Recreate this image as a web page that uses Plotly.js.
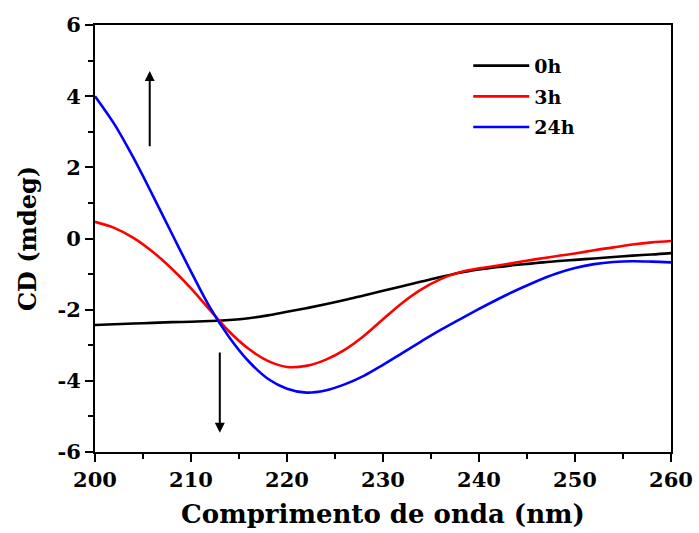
<!DOCTYPE html>
<html>
<head>
<meta charset="utf-8">
<script src="https://cdn.plot.ly/plotly-3.0.1.min.js"></script>
<style>html,body{margin:0;padding:0;background:#fff;}#chart{width:699px;height:533px;}</style>
</head>
<body>
<div id="chart"></div>
<script>
const wavelength = [200,202,204,206,208,210,212,214,216,218,220,222,224,226,228,230,232,234,236,238,240,242,244,246,248,250,252,254,256,258,260];
const cd_0h  = [-2.43,-2.41,-2.39,-2.37,-2.35,-2.34,-2.32,-2.29,-2.24,-2.16,-2.06,-1.96,-1.85,-1.73,-1.60,-1.47,-1.34,-1.21,-1.08,-0.96,-0.87,-0.80,-0.74,-0.69,-0.64,-0.60,-0.56,-0.52,-0.48,-0.45,-0.41];
const cd_3h  = [0.47,0.30,0.02,-0.37,-0.85,-1.40,-2.02,-2.62,-3.10,-3.44,-3.61,-3.58,-3.41,-3.13,-2.74,-2.27,-1.81,-1.43,-1.14,-0.95,-0.84,-0.76,-0.67,-0.58,-0.50,-0.42,-0.33,-0.25,-0.17,-0.11,-0.07];
const cd_24h = [4.00,3.22,2.27,1.22,0.14,-0.93,-1.95,-2.78,-3.45,-3.94,-4.22,-4.33,-4.27,-4.10,-3.86,-3.55,-3.22,-2.89,-2.57,-2.27,-1.98,-1.70,-1.44,-1.20,-0.99,-0.83,-0.72,-0.66,-0.64,-0.65,-0.67];
const seriesNames = ['0h','3h','24h'];
const xTicks = [200,210,220,230,240,250,260];
const yTicks = [-6,-4,-2,0,2,4,6];

const FONT = 'DejaVu Serif, serif';
const colors = ['#000000','#ff0000','#0000ff'];
const ys = [cd_0h, cd_3h, cd_24h];
const traces = ys.map((y,i)=>({
  x: wavelength, y: y, name: seriesNames[i], legendgroup:'g'+i, type:'scatter', mode:'lines',
  line:{color:colors[i], width:2.6, shape:'spline', smoothing:1}
}));

const axisCommon = {
  showgrid:false, zeroline:false, showline:true, linecolor:'#000', linewidth:2,
  mirror:true, ticks:'outside', ticklen:8, tickwidth:2, tickcolor:'#000',
  tickfont:{family:FONT, size:21, color:'#000', weight:'bold'}
};

const layout = {
  width:699, height:533,
  margin:{l:95, r:28, t:25, b:81},
  paper_bgcolor:'#fff', plot_bgcolor:'#fff',
  font:{family:FONT, color:'#000'},
  showlegend:true,
  legend:{x:0.648, y:0.949, xanchor:'left', yanchor:'top', bgcolor:'rgba(0,0,0,0)',
          font:{family:FONT, size:19, color:'#000', weight:'bold'}, itemwidth:56, tracegroupgap:3},
  xaxis:Object.assign({}, axisCommon, {
    range:[200,260], tickvals:xTicks, ticktext:xTicks.map(String),
    minor:{dtick:5, ticklen:5, tickwidth:2, tickcolor:'#000', ticks:'outside'},
    title:{text:'Comprimento de onda (nm)', font:{family:FONT, size:26, color:'#000', weight:'bold'}, standoff:14}
  }),
  yaxis:Object.assign({}, axisCommon, {
    range:[-6,6], tickvals:yTicks, ticktext:yTicks.map(String),
    minor:{dtick:1, ticklen:5, tickwidth:2, tickcolor:'#000', ticks:'outside'},
    title:{text:'CD (mdeg)', font:{family:FONT, size:24, color:'#000', weight:'bold'}, standoff:14}
  }),
  annotations:[
    {x:205.7, y:4.71, ax:205.7, ay:2.55, xref:'x', yref:'y', axref:'x', ayref:'y',
     text:'', showarrow:true, arrowhead:2, arrowsize:1, arrowwidth:2, arrowcolor:'#000'},
    {x:213.0, y:-5.46, ax:213.0, ay:-3.16, xref:'x', yref:'y', axref:'x', ayref:'y',
     text:'', showarrow:true, arrowhead:2, arrowsize:1, arrowwidth:2, arrowcolor:'#000'}
  ]
};

Plotly.newPlot('chart', traces, layout, {displayModeBar:false, staticPlot:true});
</script>
</body>
</html>
